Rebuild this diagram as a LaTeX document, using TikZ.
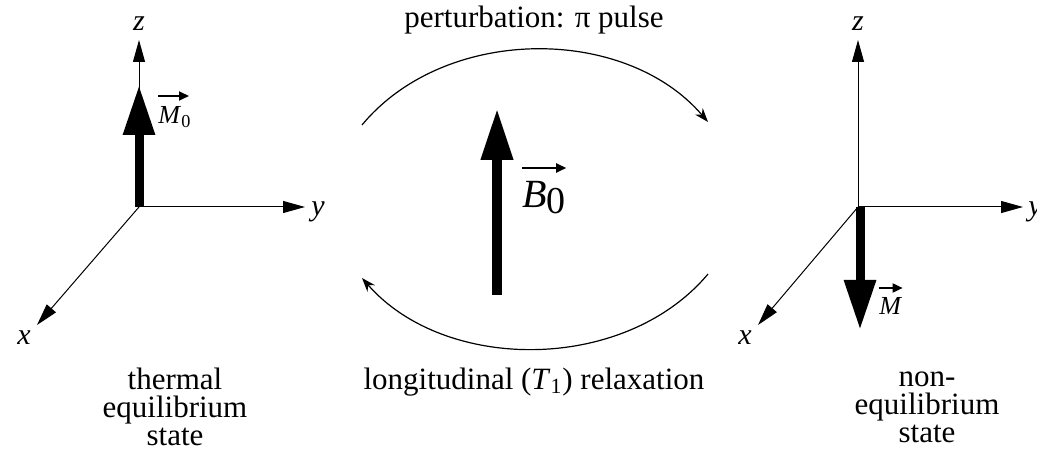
\documentclass[tikz,border=0pt]{standalone}
\usepackage{fontspec}
\setmainfont{Liberation Serif}
\usetikzlibrary{arrows.meta}

\begin{document}
\begin{tikzpicture}[
  x=0.5pt, y=-0.5pt,
  axis/.style={-{Triangle[length=11pt,width=6pt]}, line width=0.5pt},
  magn/.style={-{Triangle[length=25pt,width=15pt]}, line width=4.5pt},
  field/.style={-{Triangle[length=26pt,width=15pt]}, line width=5pt},
  trans/.style={-{Stealth[length=7pt,width=5pt]}, line width=0.6pt},
  vecarr/.style={-{Triangle[length=5pt,width=4.5pt]}, line width=0.9pt},
  axlbl/.style={font=\fontsize{15}{15}\selectfont\itshape, inner sep=0pt},
  veclbl/.style={font=\fontsize{13}{13}\selectfont, inner sep=0pt},
  txt/.style={font=\fontsize{15.5}{14}\selectfont, align=center, inner sep=0pt}
]
  \useasboundingbox (0,0) rectangle (1037,458);

  % thermal equilibrium axes
  \coordinate (oL) at (139,207);
  \coordinate (zL) at (139,40);
  \coordinate (yL) at (305,207);
  \coordinate (xL) at (37,325);
  \coordinate (mL) at (139,85);
  \draw[axis] (oL) -- (zL);
  \draw[axis] (oL) -- (yL);
  \draw[axis] (oL) -- (xL);
  \draw[magn] (oL) -- (mL);
  \node[axlbl] (zLl) at (139,24) {z};
  \node[axlbl] (yLl) at (318,212) {y};
  \node[axlbl] (xLl) at (24,338) {x};
  \node[veclbl, anchor=north west] (m0) at (158,106) {\textit{M}\textsubscript{0}};
  \draw[vecarr] ([yshift=5pt]m0.north west) -- ++(31,0);
  \node[txt] (thermal) at (175,407) {thermal\\equilibrium\\state};

  % transitions and field
  \coordinate (pa) at (362,125);
  \coordinate (pb) at (708,122);
  \coordinate (ra) at (708,274);
  \coordinate (rb) at (362,278);
  \draw[trans] (pa) .. controls (445,25) and (625,25) .. (pb);
  \draw[trans] (ra) .. controls (625,373) and (445,373) .. (rb);
  \node[txt] (pulse) at (534,20) {perturbation: π pulse};
  \node[txt] (relax) at (534,382) {longitudinal (\textit{T}\textsubscript{1}) relaxation};
  \coordinate (bS) at (497,295);
  \coordinate (bT) at (497,108);
  \draw[field] (bS) -- (bT);
  \node[font=\fontsize{20}{20}\selectfont, inner sep=0pt, anchor=north west] (b0) at (522,181)
    {\textit{B}\raisebox{-0.3ex}{\fontsize{19}{19}\selectfont 0}};
  \draw[vecarr] ([yshift=6.5pt]b0.north west) -- ([yshift=6.5pt]b0.north east);

  % non-equilibrium axes
  \coordinate (oR) at (858,207);
  \coordinate (zR) at (858,40);
  \coordinate (yR) at (1023,207);
  \coordinate (xR) at (758,325);
  \coordinate (mR) at (860,330);
  \draw[axis] (oR) -- (zR);
  \draw[axis] (oR) -- (yR);
  \draw[axis] (oR) -- (xR);
  \draw[magn] ([xshift=1pt]oR) -- (mR);
  \node[axlbl] (zRl) at (858,24) {z};
  \node[axlbl] (yRl) at (1035,212) {y};
  \node[axlbl] (xRl) at (745,338) {x};
  \node[veclbl, anchor=north west] (m) at (879,297) {\textit{M}};
  \draw[vecarr] ([yshift=4.5pt]m.north west) -- ([yshift=4.5pt]m.north east);
  \node[txt] (noneq) at (927,407) {non-\\equilibrium\\state};
\end{tikzpicture}
\end{document}
